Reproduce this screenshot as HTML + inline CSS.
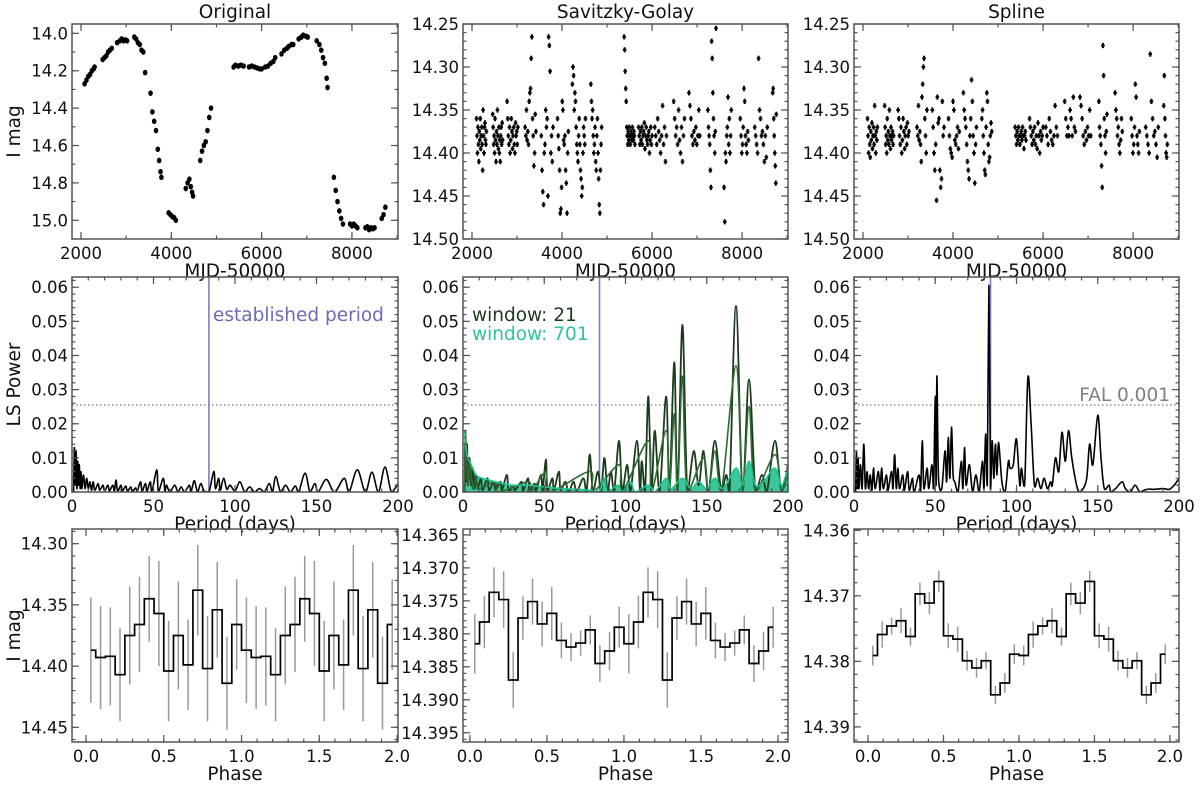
<!DOCTYPE html>
<html><head><meta charset="utf-8">
<style>
html,body{margin:0;padding:0;background:#fff;}
svg{display:block;font-family:"DejaVu Sans","Liberation Sans",sans-serif;}
</style></head>
<body>
<svg id="fig" width="1200" height="788" viewBox="0 0 1200 788" xmlns="http://www.w3.org/2000/svg"></svg>
<script>
// ---------- DATA ----------
const origT = [2080,2120,2160,2200,2240,2280,2300,2480,2520,2560,2600,2640,2680,2800,2860,2900,2940,2980,3020,3180,3220,3260,3300,3340,3380,3420,3540,3580,3620,3660,3700,3730,3760,3780,3940,3980,4020,4060,4100,4320,4360,4400,4430,4460,4480,4640,4680,4720,4760,4800,4840,4880,5380,5420,5480,5540,5600,5720,5780,5840,5900,5960,6000,6080,6140,6200,6260,6300,6440,6500,6560,6600,6660,6700,6820,6880,6920,6980,7020,7220,7280,7320,7360,7400,7440,7460,7600,7640,7680,7720,7760,7800,7960,8000,8040,8080,8120,8300,8340,8380,8420,8460,8500,8660,8700,8740];
const origM = [14.27,14.25,14.23,14.22,14.20,14.19,14.18,14.14,14.13,14.12,14.10,14.09,14.08,14.05,14.04,14.03,14.04,14.035,14.04,14.02,14.03,14.05,14.06,14.09,14.10,14.21,14.32,14.42,14.47,14.52,14.62,14.68,14.74,14.77,14.96,14.97,14.98,14.985,15.0,14.83,14.80,14.78,14.82,14.85,14.87,14.68,14.63,14.60,14.58,14.52,14.45,14.40,14.18,14.17,14.175,14.17,14.175,14.18,14.175,14.18,14.185,14.19,14.19,14.18,14.175,14.16,14.15,14.13,14.11,14.09,14.08,14.07,14.06,14.06,14.03,14.02,14.01,14.015,14.02,14.04,14.06,14.09,14.13,14.16,14.24,14.29,14.77,14.84,14.90,14.95,14.99,15.02,15.02,15.03,15.02,15.03,15.04,15.04,15.035,15.05,15.04,15.045,15.04,14.99,14.97,14.93];

const sgStart = [2100,2460,2780,3180,3540,3900,4230,4640,5380,5700,6060,6480,6820,7240,7600,7960,8280,8680];
const sgEnd   = [2320,2680,3020,3420,3800,4140,4520,4880,5620,6000,6320,6720,7060,7420,7760,8140,8560,8760];
const sgMags = [
[14.36,14.38,14.40,14.37,14.39,14.41,14.375,14.385,14.36,14.395,14.38,14.37,14.39,14.42,14.35,14.38,14.40,14.37,14.365,14.385,14.39,14.375],
[14.355,14.37,14.39,14.38,14.40,14.36,14.385,14.41,14.375,14.39,14.35,14.38,14.395,14.37,14.40,14.385,14.41,14.38,14.37,14.39,14.365,14.385],
[14.34,14.36,14.38,14.39,14.37,14.40,14.385,14.36,14.375,14.395,14.38,14.37,14.39,14.40,14.365,14.38,14.375,14.39,14.37],
[14.37,14.38,14.35,14.385,14.375,14.39,14.34,14.33,14.325,14.29,14.265,14.36,14.38,14.415,14.40,14.355,14.375],
[14.38,14.42,14.445,14.46,14.40,14.39,14.35,14.37,14.36,14.45,14.265,14.275,14.305,14.40,14.38,14.41,14.37],
[14.36,14.38,14.395,14.42,14.47,14.465,14.44,14.34,14.35,14.385,14.39,14.38,14.42,14.435,14.47,14.40,14.375],
[14.32,14.30,14.31,14.35,14.33,14.34,14.37,14.39,14.40,14.41,14.38,14.36,14.39,14.42,14.43,14.45,14.44,14.40,14.37,14.38,14.39,14.36],
[14.32,14.34,14.36,14.35,14.38,14.40,14.39,14.37,14.41,14.42,14.38,14.36,14.40,14.43,14.46,14.47,14.42,14.39,14.37],
[14.265,14.28,14.305,14.325,14.34,14.37,14.38,14.39,14.375,14.385,14.37,14.38,14.39,14.38,14.375,14.385,14.37,14.38,14.385,14.375,14.38,14.39],
[14.37,14.38,14.39,14.375,14.385,14.37,14.39,14.38,14.375,14.365,14.395,14.38,14.37,14.385,14.39,14.38,14.375,14.40,14.385,14.37,14.39,14.38],
[14.37,14.38,14.39,14.36,14.375,14.385,14.40,14.38,14.345,14.39,14.37,14.41,14.38],
[14.34,14.36,14.38,14.37,14.39,14.35,14.385,14.40,14.37,14.41,14.38,14.36],
[14.33,14.345,14.36,14.38,14.39,14.375,14.385,14.37,14.39,14.38,14.35,14.38],
[14.35,14.37,14.38,14.39,14.42,14.44,14.27,14.29,14.33,14.36,14.38,14.40,14.375,14.255],
[14.44,14.48,14.40,14.41,14.38,14.37,14.335,14.39,14.36,14.40,14.38,14.35],
[14.36,14.38,14.40,14.39,14.37,14.325,14.34,14.38,14.39,14.40,14.375,14.385],
[14.37,14.38,14.39,14.40,14.29,14.35,14.36,14.38,14.375,14.39,14.41,14.38,14.405,14.37],
[14.33,14.325,14.36,14.38,14.40,14.415,14.435,14.355]];
const spStart = [2100,2480,2780,3200,3540,3900,4230,4640,5380,5700,6060,6480,6820,7240,7600,7960,8280,8680];
const spEnd   = [2320,2680,3020,3420,3800,4140,4520,4860,5620,6000,6320,6720,7060,7420,7760,8140,8560,8760];
const spMags = [
[14.36,14.38,14.40,14.37,14.39,14.405,14.375,14.385,14.365,14.395,14.38,14.37,14.39,14.345,14.38,14.40,14.375,14.385,14.37],
[14.345,14.37,14.39,14.38,14.40,14.36,14.385,14.375,14.39,14.35,14.38,14.395,14.37,14.385,14.38,14.375,14.39,14.38],
[14.35,14.36,14.38,14.39,14.37,14.40,14.385,14.36,14.375,14.395,14.38,14.37,14.39,14.365,14.38,14.375],
[14.37,14.38,14.345,14.385,14.375,14.39,14.41,14.335,14.32,14.30,14.29,14.36,14.38,14.40,14.35],
[14.35,14.37,14.40,14.42,14.39,14.455,14.335,14.365,14.36,14.42,14.44,14.43,14.34,14.38,14.37],
[14.36,14.38,14.395,14.40,14.405,14.34,14.35,14.385,14.39,14.38,14.37,14.395,14.375],
[14.33,14.35,14.36,14.37,14.39,14.41,14.42,14.43,14.38,14.36,14.315,14.34,14.38,14.40,14.435,14.39,14.37],
[14.36,14.35,14.38,14.40,14.42,14.425,14.37,14.33,14.34,14.39,14.41,14.405,14.38,14.365,14.375],
[14.37,14.38,14.39,14.375,14.385,14.37,14.38,14.39,14.38,14.375,14.385,14.37,14.38,14.395,14.38,14.375,14.385],
[14.36,14.37,14.38,14.39,14.375,14.385,14.37,14.39,14.38,14.395,14.365,14.38,14.40,14.375,14.385,14.38,14.37],
[14.37,14.38,14.39,14.36,14.375,14.385,14.39,14.38,14.345,14.37,14.38],
[14.34,14.36,14.38,14.37,14.38,14.35,14.36,14.38,14.335,14.37,14.375],
[14.335,14.345,14.36,14.38,14.39,14.375,14.385,14.37,14.38,14.35,14.38],
[14.34,14.37,14.38,14.39,14.415,14.44,14.275,14.31,14.36,14.38,14.40,14.375,14.355],
[14.33,14.35,14.36,14.38,14.37,14.39,14.40,14.385,14.36,14.375],
[14.36,14.38,14.40,14.39,14.37,14.32,14.335,14.38,14.39,14.40,14.375],
[14.37,14.38,14.39,14.40,14.285,14.34,14.36,14.38,14.375,14.39,14.405,14.37],
[14.345,14.31,14.36,14.38,14.40,14.405,14.39]];

const lsOrigP = [1,1.5,2,2.5,3,3.5,4,4.5,5,5.5,6,7,8,9,10,11,12,13,14,16,17,19,20,22,23,25,26,27,28,30,31,33,34,36,37,39,40,42,43,45,46,48,49,52,53,56,57,58,60,63,65,67,69,72,73,75,77,79,81,84,87,88,90,91,93,95,97,100,103,106,109,112,115,118,121,123,125,128,131,134,137,139,143,146,149,151,156,161,167,170,175,180,184,188,192,196,200];
const lsOrigW = [0,0.013,0.002,0.012,0.001,0.009,0.002,0.008,0.001,0.006,0.001,0.005,0.001,0.004,0.001,0.003,0.0005,0.003,0.0005,0.0025,0.0005,0.002,0.0003,0.002,0.0003,0.002,0.0003,0.0035,0.0003,0.002,0.0003,0.0018,0.0002,0.0015,0.0002,0.0012,0.0002,0.003,0.0002,0.0025,0.0002,0.003,0.0002,0.0065,0.0002,0.004,0.0002,0.002,0,0.002,0,0.0015,0,0.002,0,0.0033,0,0.0025,0.0003,0,0.006,0.001,0.004,0.0005,0.004,0.0008,0.002,0.0003,0.003,0,0.0015,0,0.001,0,0.0025,0,0.0045,0,0.002,0,0.0018,0,0.0055,0,0.0025,0,0.0037,0,0.004,0,0.0065,0,0.0058,0,0.0073,0,0.0025];
const lsSg21P = [1,1.5,2,2.5,3,4,5,6,7,8,9,11,12,15,16,19,20,23,24,27,28,31,32,36,37,40,41,44,45,48,49,51,52,55,56,59,60,63,65,68,70,74,76,78,80,83,85,87,89,91,93,96,98,101,103,107,109,110,112,114,116,118,121,125,127,130,132,135,138,142,145,148,151,155,159,162,164,168,172,176,180,184,187,192,196,200];
const lsSg21W = [0,0.018,0.003,0.014,0.002,0.01,0.002,0.007,0.001,0.005,0.001,0.004,0.0005,0.004,0.0005,0.003,0.0005,0.003,0.0005,0.005,0.0005,0.002,0.0005,0.003,0.0003,0.004,0.0003,0.0025,0.0003,0.005,0.0003,0.0095,0.0005,0.004,0.0005,0.006,0.0005,0.003,0,0.003,0,0.004,0,0.011,0,0.006,0,0.01,0,0.006,0,0.015,0,0.008,0,0.015,0,0.009,0,0.028,0,0.018,0,0.028,0,0.038,0,0.049,0,0.012,0.002,0.012,0,0.015,0,0.005,0,0.0545,0,0.033,0,0.005,0,0.015,0,0.008];
const lsSgMidP = [1,1.5,3,4,6,8,10,20,22,40,42,51,53,78,80,96,98,114,116,125,127,130,132,135,138,148,151,155,159,168,172,176,180,192,196,200];
const lsSgMidW = [0,0.017,0.002,0.009,0.001,0.004,0.001,0.003,0,0.003,0,0.006,0,0.006,0,0.008,0,0.015,0,0.018,0,0.023,0,0.034,0,0.01,0,0.012,0,0.037,0,0.025,0,0.011,0,0.006];
const lsSg701P = [1,2,3,5,8,12,20,30,40,50,60,70,80,84,87,89,95,98,103,106,114,118,125,128,135,140,145,150,155,160,168,172,176,180,185,192,196,200];
const lsSg701W = [0.018,0.012,0.01,0.008,0.005,0.004,0.003,0.002,0.002,0.0015,0.001,0.0008,0.0005,0.0003,0.004,0,0.002,0,0.003,0,0.002,0,0.004,0.001,0.004,0.001,0.003,0.001,0.004,0.001,0.007,0.002,0.009,0.002,0.003,0.007,0.002,0.007];
const lsSpP = [1,1.5,2,2.5,3,4,5,6,7,8,9,10,11,12,13,15,16,17,18,20,21,23,24,25,26,27,28,30,31,33,34,36,37,40,41,42,43,45,46,48,49,50,50.5,51,52,54,56,57,58,59,60,61,62,64,66,67,68,69,71,73,75,77,79,80,81,82,83,84,85,86,87,88,89,91,93,95,96,98,100,102,103,105,107,109,111,113,115,117,119,121,122,124,126,128,130,132,134,137,139,143,145,147,150,152,154,157,158,161,165,167,170,173,176,180,185,190,194,197,200];
const lsSpW = [0,0.012,0.001,0.01,0.001,0.008,0.001,0.014,0.001,0.006,0.001,0.005,0.0005,0.007,0.001,0.006,0.0005,0.007,0.001,0.005,0.0005,0.006,0.001,0.011,0.001,0.007,0.001,0.005,0.0005,0.006,0.0005,0.004,0,0.005,0,0.015,0.001,0.007,0.001,0.008,0.001,0.028,0.002,0.034,0.004,0.001,0.012,0.003,0.016,0.004,0.019,0.005,0.003,0,0.009,0.001,0.013,0.002,0.008,0,0.005,0,0.009,0.001,0.017,0.002,0.0605,0.001,0.015,0.004,0.014,0.005,0.0145,0.003,0,0.009,0.007,0.008,0.0155,0.002,0.007,0.002,0.0335,0.02,0.002,0.004,0.001,0.004,0.001,0.003,0.002,0.01,0.006,0.0175,0.009,0.018,0.01,0.002,0,0.0035,0.014,0.008,0.0225,0.01,0.001,0.002,0,0.001,0.003,0.001,0,0.002,0,0.0008,0.0008,0.001,0.0008,0.002,0.004];
const establishedPeriod = 84;
const falLevel = 0.0255;

const phOrig = [14.387,14.393,14.392,14.407,14.375,14.366,14.345,14.357,14.404,14.375,14.399,14.338,14.402,14.354,14.414,14.366];
const phOrigErr = [0.043,0.042,0.040,0.038,0.040,0.039,0.035,0.043,0.041,0.044,0.037,0.037,0.043,0.039,0.038,0.037];
const phSg = [14.3815,14.3782,14.3737,14.3748,14.387,14.3776,14.3751,14.3785,14.3769,14.381,14.382,14.3814,14.3794,14.3845,14.3826,14.379];
const phSgErr = [0.0045,0.004,0.0038,0.0043,0.0042,0.0033,0.0035,0.0034,0.004,0.0027,0.0021,0.0019,0.0022,0.0028,0.0029,0.0031];
const phSp = [14.3791,14.3759,14.3746,14.3738,14.3762,14.3697,14.3711,14.3678,14.3761,14.3766,14.3799,14.381,14.3799,14.3851,14.3833,14.3789];
const phSpErr = [0.0015,0.002,0.0013,0.0019,0.0014,0.0017,0.0017,0.0016,0.0019,0.0019,0.0015,0.0015,0.0013,0.0014,0.0015,0.0015];

// ---------- DRAWING ----------
const NS='http://www.w3.org/2000/svg';
const fig=document.getElementById('fig');
function mk(tag,attrs,parent){const e=document.createElementNS(NS,tag);for(const k in attrs)e.setAttribute(k,attrs[k]);(parent||fig).appendChild(e);return e;}

function makeAxes(o){
  const g=mk('g',{});
  
  
  const sx=v=>o.x0+(v-o.xmin)/(o.xmax-o.xmin)*(o.x1-o.x0);
  const sy=v=>o.y1-(v-o.ybot)/(o.ytop-o.ybot)*(o.y1-o.y0);
  const cp='cp'+o.name;
  const c=mk('clipPath',{id:cp},g);mk('rect',{x:o.x0,y:o.y0,width:o.x1-o.x0,height:o.y1-o.y0},c);
  const plot=mk('g',{'clip-path':'url(#'+cp+')'},g);
  
  
  return {g,plot,sx,sy,o};
}
function finishAxes(ax){
  const o=ax.o,g=ax.g;
  const col='#555';
  const lo=Math.min(o.xmin,o.xmax),hi=Math.max(o.xmin,o.xmax);
  function ticksX(step,len,label){
    const s=Math.ceil(lo/step-1e-9);
    for(let k=s;k*step<=hi+1e-9;k++){const v=k*step;const x=ax.sx(v);
      mk('line',{x1:x,y1:o.y1,x2:x,y2:o.y1-len,stroke:col,'stroke-width':1.2},g);
      mk('line',{x1:x,y1:o.y0,x2:x,y2:o.y0+len,stroke:col,'stroke-width':1.2},g);
      if(label){const t=mk('text',{x:x,y:o.y1+20,'text-anchor':'middle','font-size':16.5,fill:'#111'},g);t.textContent=v.toFixed(o.xdec);
        }
    }
  }
  function ticksY(step,len,label){
    const a=Math.min(o.ytop,o.ybot),b=Math.max(o.ytop,o.ybot);
    const s=Math.ceil(a/step-1e-9);
    for(let k=s;k*step<=b+1e-9;k++){const v=k*step;const y=ax.sy(v);
      mk('line',{x1:o.x0,y1:y,x2:o.x0+len,y2:y,stroke:col,'stroke-width':1.2},g);
      mk('line',{x1:o.x1,y1:y,x2:o.x1-len,y2:y,stroke:col,'stroke-width':1.2},g);
      if(label){const t=mk('text',{x:o.x0-4,y:y+6,'text-anchor':'end','font-size':16.5,fill:'#111'},g);t.textContent=v.toFixed(o.ydec);
        }
    }
  }
  ticksX(o.xminor,3.5,false);ticksX(o.xmajor,7,true);
  ticksY(o.yminor,3.5,false);ticksY(o.ymajor,7,true);
  const fr=mk('rect',{x:o.x0,y:o.y0,width:o.x1-o.x0,height:o.y1-o.y0,fill:'none',stroke:col,'stroke-width':1.5},g);
  
  if(o.xlabel){const t=mk('text',{x:(o.x0+o.x1)/2,y:o.y1+38,'text-anchor':'middle','font-size':18.5,fill:'#111'},g);t.textContent=o.xlabel;
    }
  if(o.ylabel){const yc=(o.y0+o.y1)/2;const t=mk('text',{x:20,y:yc,'text-anchor':'middle','font-size':18.5,fill:'#111',transform:'rotate(-90 20 '+yc+')'},g);t.textContent=o.ylabel;
    }
  if(o.title){const t=mk('text',{x:(o.x0+o.x1)/2,y:o.y0-6,'text-anchor':'middle','font-size':18.5,fill:'#111'},g);t.textContent=o.title;
    }
}

const cols=[[72,398],[463,788],[854,1179]];
const rows=[[24,239],[277,492],[529,742]];

function drawPoints(ax,ts,ms,name){
  for(let i=0;i<ts.length;i++){
    const p=mk('ellipse',{cx:ax.sx(ts[i]),cy:ax.sy(ms[i]),rx:2.3,ry:2.8,fill:'#000'},ax.plot);
    
    
  }
}
function drawSeasons(ax,st,en,mags,name){
  for(let s=0;s<st.length;s++){
    const m=mags[s],n=m.length;
    for(let i=0;i<n;i++){
      const t=st[s]+(en[s]-st[s])*(n>1?i/(n-1):0.5);
      const p=mk('path',{d:'M'+(ax.sx(t)-1.8)+','+ax.sy(m[i])+'h3.6M'+ax.sx(t)+','+(ax.sy(m[i])-2.6)+'v5.2',stroke:'#000','stroke-width':2},ax.plot);
      
      
    }
  }
}
let a=makeAxes({name:'original-lightcurve',x0:cols[0][0],x1:cols[0][1],y0:rows[0][0],y1:rows[0][1],xmin:1800,xmax:9020,ytop:13.95,ybot:15.1,xmajor:2000,xminor:1000,ymajor:0.2,yminor:0.1,xdec:0,ydec:1,title:'Original',ylabel:'I mag',xlabel:'MJD-50000'});
drawPoints(a,origT,origM,'original-point');
finishAxes(a);
a=makeAxes({name:'sg-lightcurve',x0:cols[1][0],x1:cols[1][1],y0:rows[0][0],y1:rows[0][1],xmin:1800,xmax:9020,ytop:14.25,ybot:14.5,xmajor:2000,xminor:1000,ymajor:0.05,yminor:0.01,xdec:0,ydec:2,title:'Savitzky-Golay',xlabel:'MJD-50000'});
drawSeasons(a,sgStart,sgEnd,sgMags,'sg-point');finishAxes(a);
a=makeAxes({name:'spline-lightcurve',x0:cols[2][0],x1:cols[2][1],y0:rows[0][0],y1:rows[0][1],xmin:1800,xmax:9020,ytop:14.25,ybot:14.5,xmajor:2000,xminor:1000,ymajor:0.05,yminor:0.01,xdec:0,ydec:2,title:'Spline',xlabel:'MJD-50000'});
drawSeasons(a,spStart,spEnd,spMags,'spline-point');finishAxes(a);

// smooth path (Catmull-Rom -> cubic Bezier)
function lineD(ax,P,W){
  const pts=P.map((p,i)=>[ax.sx(p),ax.sy(W[i])]);
  const yb=ax.o.y1;
  let d='M'+pts[0][0].toFixed(1)+','+pts[0][1].toFixed(1);
  for(let i=0;i<pts.length-1;i++){
    const p0=pts[Math.max(0,i-1)],p1=pts[i],p2=pts[i+1],p3=pts[Math.min(pts.length-1,i+2)];
    const c1x=p1[0]+(p2[0]-p0[0])/6,c1y=Math.min(yb,p1[1]+(p2[1]-p0[1])/6);
    const c2x=p2[0]-(p3[0]-p1[0])/6,c2y=Math.min(yb,p2[1]-(p3[1]-p1[1])/6);
    d+='C'+c1x.toFixed(1)+','+c1y.toFixed(1)+' '+c2x.toFixed(1)+','+c2y.toFixed(1)+' '+p2[0].toFixed(1)+','+p2[1].toFixed(1);
  }
  return d;
}
function refLines(ax){
  const f=mk('line',{x1:ax.o.x0,x2:ax.o.x1,y1:ax.sy(falLevel),y2:ax.sy(falLevel),stroke:'#777','stroke-width':1.3,'stroke-dasharray':'1.5,2.5'},ax.plot);
  
  const e=mk('line',{x1:ax.sx(establishedPeriod),x2:ax.sx(establishedPeriod),y1:ax.o.y0,y2:ax.o.y1,stroke:'#7a7ec6','stroke-width':1.6},ax.plot);
  
}
const lsOpt=(i)=>({name:'periodogram-'+i,x0:cols[i][0],x1:cols[i][1],y0:rows[1][0],y1:rows[1][1],xmin:0,xmax:200,ytop:0.063,ybot:0,xmajor:50,xminor:10,ymajor:0.01,yminor:0.002,xdec:0,ydec:2,xlabel:'Period (days)'});
let o=lsOpt(0);o.ylabel='LS Power';a=makeAxes(o);refLines(a);
let l=mk('path',{d:lineD(a,lsOrigP,lsOrigW),fill:'none',stroke:'#000','stroke-width':1.6},a.plot);

let t=mk('text',{x:a.sx(86.5),y:a.o.y0+44,'font-size':18.5,fill:'#6b6bb8'},a.g);t.textContent='established period';

finishAxes(a);

a=makeAxes(lsOpt(1));refLines(a);
l=mk('path',{d:lineD(a,lsSg701P,lsSg701W)+'L'+a.sx(200)+','+a.sy(0)+'L'+a.sx(1)+','+a.sy(0)+'Z',fill:'#3cc69b',stroke:'none'},a.plot);

l=mk('path',{d:lineD(a,lsSg21P,lsSg21W),fill:'none',stroke:'#1c3a1c','stroke-width':1.8},a.plot);

l=mk('path',{d:lineD(a,lsSgMidP,lsSgMidW),fill:'none',stroke:'#2e6a34','stroke-width':1.6},a.plot);

l=mk('path',{d:lineD(a,lsSg701P,lsSg701W),fill:'none',stroke:'#22c48f','stroke-width':1.6},a.plot);

t=mk('text',{x:a.o.x0+9,y:a.o.y0+44,'font-size':18.5,fill:'#1c3a1c'},a.g);t.textContent='window: 21';

t=mk('text',{x:a.o.x0+9,y:a.o.y0+63,'font-size':18.5,fill:'#2ec49a'},a.g);t.textContent='window: 701';

finishAxes(a);

a=makeAxes(lsOpt(2));refLines(a);
l=mk('path',{d:lineD(a,lsSpP,lsSpW),fill:'none',stroke:'#000','stroke-width':1.6},a.plot);

t=mk('text',{x:a.o.x1-9,y:a.sy(falLevel)-4,'text-anchor':'end','font-size':18.5,fill:'#808080'},a.g);t.textContent='FAL 0.001';

finishAxes(a);

function drawPhase(ax,vals,errs,name){
  const n=vals.length,w=1/n;const xs=[],ys=[],es=[];
  for(let c=0;c<2;c++)for(let i=0;i<n;i++){xs.push(c+(i+0.5)*w);ys.push(vals[i]);es.push(errs[i]);}
  for(let i=0;i<xs.length;i++){
    const e=mk('line',{x1:ax.sx(xs[i]),x2:ax.sx(xs[i]),y1:ax.sy(ys[i]-es[i]),y2:ax.sy(ys[i]+es[i]),stroke:'#999','stroke-width':1.5},ax.plot);
    
  }
  let d='M'+ax.sx(xs[0])+','+ax.sy(ys[0]);
  for(let i=1;i<xs.length;i++){const m=ax.sx((xs[i-1]+xs[i])/2);d+='H'+m+'V'+ax.sy(ys[i]);}
  d+='H'+ax.sx(xs[xs.length-1]);
  const p=mk('path',{d:d,fill:'none',stroke:'#000','stroke-width':1.7},ax.plot);
  
}
a=makeAxes({name:'phase-original',x0:cols[0][0],x1:cols[0][1],y0:rows[2][0],y1:rows[2][1],xmin:-0.09,xmax:2.006,ytop:14.288,ybot:14.462,xmajor:0.5,xminor:0.1,ymajor:0.05,yminor:0.01,xdec:1,ydec:2,ylabel:'I mag',xlabel:'Phase'});
drawPhase(a,phOrig,phOrigErr,'phase-original');finishAxes(a);
a=makeAxes({name:'phase-sg',x0:cols[1][0],x1:cols[1][1],y0:rows[2][0],y1:rows[2][1],xmin:-0.045,xmax:2.065,ytop:14.3641,ybot:14.3964,xmajor:0.5,xminor:0.1,ymajor:0.005,yminor:0.001,xdec:1,ydec:3,xlabel:'Phase'});
drawPhase(a,phSg,phSgErr,'phase-sg');finishAxes(a);
a=makeAxes({name:'phase-spline',x0:cols[2][0],x1:cols[2][1],y0:rows[2][0],y1:rows[2][1],xmin:-0.093,xmax:2.06,ytop:14.3598,ybot:14.3923,xmajor:0.5,xminor:0.1,ymajor:0.01,yminor:0.002,xdec:1,ydec:2,xlabel:'Phase'});
drawPhase(a,phSp,phSpErr,'phase-spline');finishAxes(a);
</script>
</body></html>
